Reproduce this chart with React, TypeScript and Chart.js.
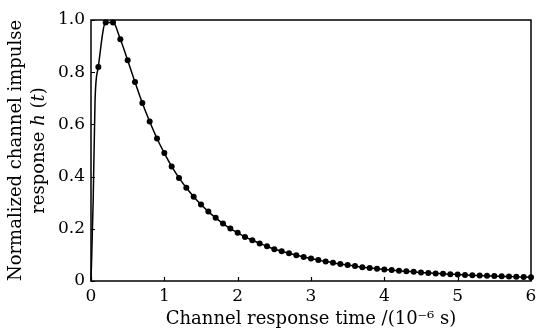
import React, { useEffect, useRef } from "react";
import { Chart, registerables } from "chart.js";

Chart.register(...registerables);

// Unmarked points on the steep rise near t = 0 (10^-6 s)
const riseTimes = [0, 0.03, 0.055];
const riseValues = [0, 0.31, 0.69];

// Marked samples (10^-6 s) and normalized impulse response
const sampleTimes = [
  0.1, 0.2, 0.3, 0.4, 0.5, 0.6, 0.7, 0.8, 0.9, 1.0,
  1.1, 1.2, 1.3, 1.4, 1.5, 1.6, 1.7, 1.8, 1.9, 2.0,
  2.1, 2.2, 2.3, 2.4, 2.5, 2.6, 2.7, 2.8, 2.9, 3.0,
  3.1, 3.2, 3.3, 3.4, 3.5, 3.6, 3.7, 3.8, 3.9, 4.0,
  4.1, 4.2, 4.3, 4.4, 4.5, 4.6, 4.7, 4.8, 4.9, 5.0,
  5.1, 5.2, 5.3, 5.4, 5.5, 5.6, 5.7, 5.8, 5.9, 6.0,
];
const sampleValues = [
  0.82, 0.99, 0.99, 0.926, 0.846, 0.762, 0.682, 0.611, 0.546, 0.49,
  0.439, 0.395, 0.357, 0.323, 0.293, 0.266, 0.242, 0.22, 0.201, 0.185,
  0.169, 0.156, 0.144, 0.133, 0.122, 0.114, 0.106, 0.099, 0.092, 0.086,
  0.08, 0.075, 0.07, 0.065, 0.061, 0.057, 0.053, 0.05, 0.047, 0.044,
  0.042, 0.039, 0.037, 0.035, 0.033, 0.031, 0.029, 0.028, 0.026, 0.025,
  0.023, 0.022, 0.021, 0.02, 0.019, 0.018, 0.017, 0.016, 0.015, 0.014,
];

const xTicks = [0, 1, 2, 3, 4, 5, 6];
const xTickLabels = ["0", "1", "2", "3", "4", "5", "6"];
const yTicks = [0, 0.2, 0.4, 0.6, 0.8, 1.0];
const yTickLabels = ["0", "0.2", "0.4", "0.6", "0.8", "1.0"];

const xTitle = "Channel response time /(10\u207B\u2076 s)";
const yTitleLine1 = "Normalized channel impulse";
// segments of the second line: [text, italic]
const yTitleLine2: [string, boolean][] = [
  ["response ", false],
  ["h", true],
  [" (", false],
  ["t", true],
  [")", false],
];

const FONT = "'DejaVu Serif', serif";
const TICK_FS = 17;
const TITLE_FS = 18;

const framePlugin = {
  id: "frameTicks",
  afterDraw(chart: any) {
    const { ctx, chartArea, scales } = chart;
    const { left, right, top, bottom } = chartArea;
    const x = scales.x;
    const y = scales.y;
    ctx.save();
    ctx.strokeStyle = "#000";
    ctx.lineWidth = 1.5;
    ctx.strokeRect(left, top, right - left, bottom - top);
    ctx.lineWidth = 1.2;
    ctx.beginPath();
    xTicks.forEach((v) => {
      const px = Math.round(x.getPixelForValue(v)) + 0.5;
      ctx.moveTo(px, bottom);
      ctx.lineTo(px, bottom - 4);
    });
    yTicks.forEach((v) => {
      const py = Math.round(y.getPixelForValue(v)) + 0.5;
      ctx.moveTo(left, py);
      ctx.lineTo(left + 4, py);
    });
    ctx.stroke();

    // y-axis title (two lines, rotated), with italic h and t
    const cy = (top + bottom) / 2;
    ctx.fillStyle = "#000";
    ctx.textBaseline = "middle";
    ctx.translate(0, cy);
    ctx.rotate(-Math.PI / 2);
    ctx.font = `${TITLE_FS}px ${FONT}`;
    ctx.textAlign = "center";
    ctx.fillText(yTitleLine1, 0, 16);
    ctx.textAlign = "left";
    let total = 0;
    yTitleLine2.forEach(([t, it]) => {
      ctx.font = `${it ? "italic " : ""}${TITLE_FS}px ${FONT}`;
      total += ctx.measureText(t).width;
    });
    let cx = -total / 2;
    yTitleLine2.forEach(([t, it]) => {
      ctx.font = `${it ? "italic " : ""}${TITLE_FS}px ${FONT}`;
      ctx.fillText(t, cx, 39);
      cx += ctx.measureText(t).width;
    });
    ctx.restore();
  },
};

export default function App() {
  const ref = useRef<HTMLCanvasElement | null>(null);

  useEffect(() => {
    if (!ref.current) return;
    const riseData = riseTimes.map((t, i) => ({ x: t, y: riseValues[i] }));
    const sampleData = sampleTimes.map((t, i) => ({ x: t, y: sampleValues[i] }));
    const data = [...riseData, ...sampleData];
    const radii = [...riseData.map(() => 0), ...sampleData.map(() => 3)];

    const chart = new Chart(ref.current, {
      type: "line",
      data: {
        datasets: [
          {
            data,
            borderColor: "#000",
            backgroundColor: "#000",
            borderWidth: 1.5,
            pointRadius: radii,
            pointBackgroundColor: "#000",
            pointBorderColor: "#000",
            pointBorderWidth: 0,
            cubicInterpolationMode: "monotone",
            clip: 8,
          },
        ],
      },
      options: {
        responsive: false,
        animation: false,
        layout: { padding: { top: 20, right: 5, left: 0, bottom: 0 } },
        plugins: {
          legend: { display: false },
          tooltip: { enabled: false },
        },
        scales: {
          x: {
            type: "linear",
            min: 0,
            max: 6,
            afterFit: (s: any) => {
              s.height = 47;
              s.paddingLeft = 0;
              s.paddingRight = 0;
            },
            afterBuildTicks: (s: any) => {
              s.ticks = xTicks.map((v) => ({ value: v }));
            },
            grid: { display: false, drawTicks: false },
            border: { display: false },
            ticks: {
              color: "#000",
              font: { family: FONT, size: TICK_FS },
              padding: 5,
              maxRotation: 0,
              callback: (v: any) => {
                const i = xTicks.indexOf(Number(v));
                return i >= 0 ? xTickLabels[i] : "";
              },
            },
            title: {
              display: true,
              text: xTitle,
              color: "#000",
              font: { family: FONT, size: TITLE_FS, lineHeight: 1.0 },
              padding: { top: 0, bottom: 0 },
            },
          },
          y: {
            type: "linear",
            min: 0,
            max: 1,
            afterFit: (s: any) => {
              s.width = 91;
              s.paddingTop = 0;
              s.paddingBottom = 0;
            },
            afterBuildTicks: (s: any) => {
              s.ticks = yTicks.map((v) => ({ value: v }));
            },
            grid: { display: false, drawTicks: false },
            border: { display: false },
            ticks: {
              color: "#000",
              font: { family: FONT, size: TICK_FS },
              padding: 6,
              callback: (v: any) => {
                const i = yTicks.findIndex((t) => Math.abs(t - Number(v)) < 1e-9);
                return i >= 0 ? yTickLabels[i] : "";
              },
            },
            title: { display: false },
          },
        },
      },
      plugins: [framePlugin],
    } as any);
    return () => chart.destroy();
  }, []);

  return (
    <div style={{ position: "fixed", left: 0, top: 0, width: 536, height: 328, background: "#fff" }}>
      <canvas ref={ref} width={536} height={328} style={{ display: "block" }} />
    </div>
  );
}
